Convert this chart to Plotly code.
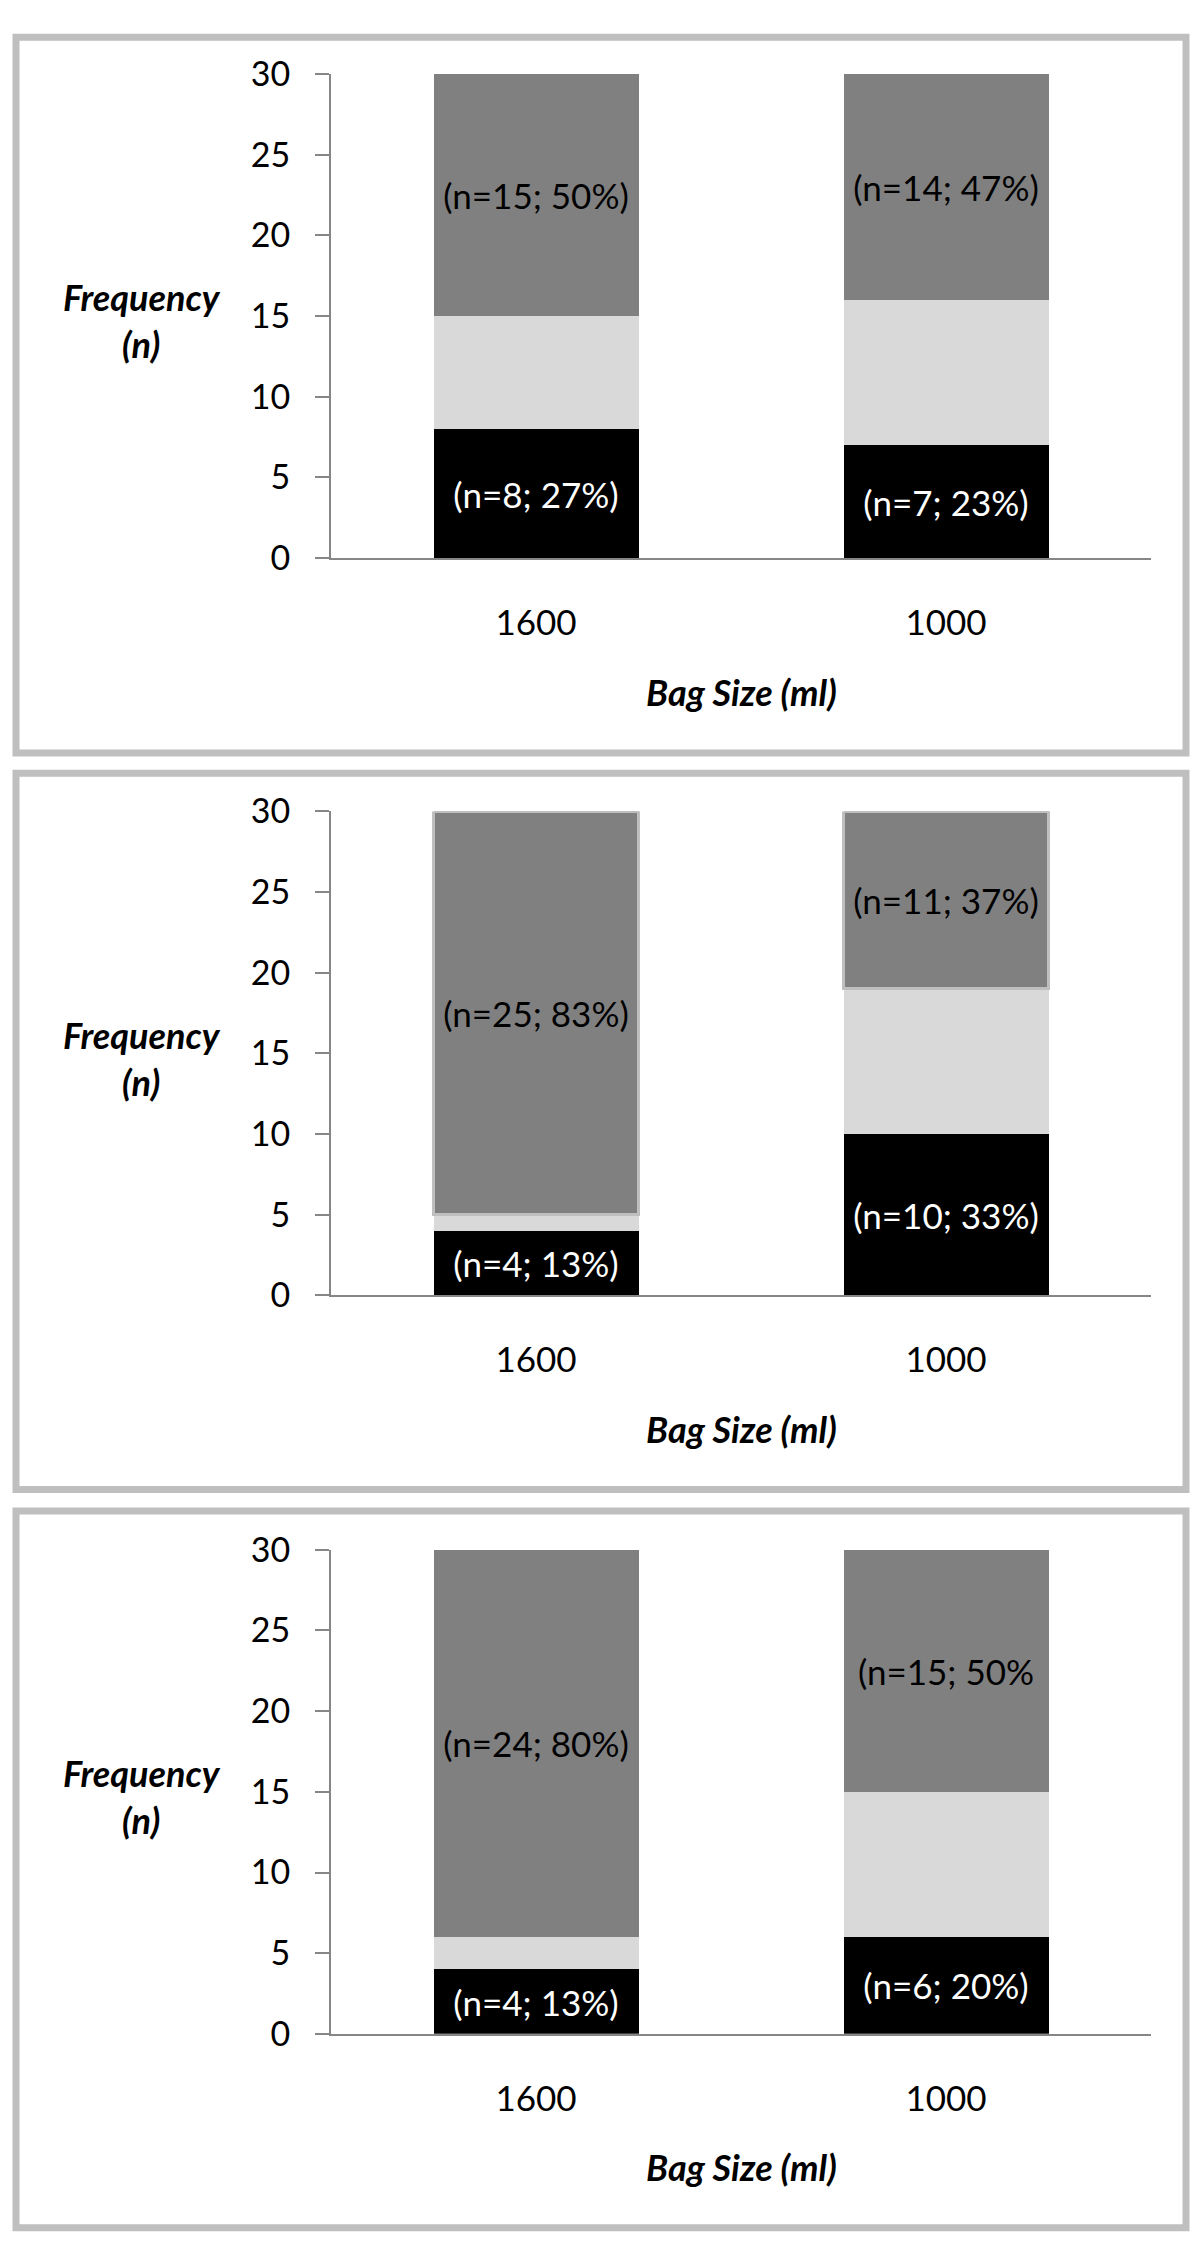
import plotly.graph_objs as go

#########################
## data (3 panels) ######
#########################
bag_sizes = ['1600', '1000']

p1_black = [8, 7]
p1_light = [7, 9]
p1_dark = [15, 14]
p1_black_text = ['(n=8; 27%)', '(n=7; 23%)']
p1_dark_text = ['(n=15; 50%)', '(n=14; 47%)']

p2_black = [4, 10]
p2_light = [1, 9]
p2_dark = [25, 11]
p2_black_text = ['(n=4; 13%)', '(n=10; 33%)']
p2_dark_text = ['(n=25; 83%)', '(n=11; 37%)']

p3_black = [4, 6]
p3_light = [2, 9]
p3_dark = [24, 15]
p3_black_text = ['(n=4; 13%)', '(n=6; 20%)']
p3_dark_text = ['(n=24; 80%)', '(n=15; 50%']

y_ticks = [0, 5, 10, 15, 20, 25, 30]

panels = [
    (p1_black, p1_light, p1_dark, p1_black_text, p1_dark_text, False),
    (p2_black, p2_light, p2_dark, p2_black_text, p2_dark_text, True),   ## middle panel has outlined top segment
    (p3_black, p3_light, p3_dark, p3_black_text, p3_dark_text, False),
]

#########################
## page geometry (px) ###
#########################
W, H = 1200, 2262
FONT = 'Lato'
AXIS_GREY = '#868686'
BORDER_GREY = '#BFBFBF'

plot_top = [53, 804, 1556]      # y pixel of value 30
plot_bottom = [546, 1297, 2049]  # y pixel of value 0
box_top = [15.5, 765, 1516.5]
box_bottom = [744.5, 1494.5, 2246.5]
x_left, x_right = 331, 1151


def px_x(v):
    return v / W


def px_y(v):
    return 1 - v / H


data = []
layout = go.Layout(
    width=W, height=H,
    margin=dict(l=0, r=0, t=0, b=0),
    paper_bgcolor='white',
    plot_bgcolor='white',
    barmode='stack',
    bargap=0.5,
    showlegend=False,
    hovermode=False,
    font=dict(family=FONT, color='black'),
)

shapes = []
annotations = []

for i, (blk, lgt, drk, blk_txt, drk_txt, outline) in enumerate(panels):
    n = '' if i == 0 else str(i + 1)
    xa, ya = 'x' + n, 'y' + n

    data.append(go.Bar(x=bag_sizes, y=blk, xaxis=xa, yaxis=ya,
                       marker=dict(color='#000000', line=dict(width=0)),
                       text=blk_txt, textposition='inside',
                       insidetextanchor='middle', constraintext='none',
                       textfont=dict(family=FONT, size=35, color='white')))
    data.append(go.Bar(x=bag_sizes, y=lgt, xaxis=xa, yaxis=ya,
                       marker=dict(color='#D9D9D9', line=dict(width=0))))
    data.append(go.Bar(x=bag_sizes, y=drk, xaxis=xa, yaxis=ya,
                       marker=dict(color='#808080',
                                   line=dict(color=BORDER_GREY, width=3 if outline else 0)),
                       text=drk_txt, textposition='inside',
                       insidetextanchor='middle', constraintext='none',
                       textfont=dict(family=FONT, size=35, color='black')))

    layout['xaxis' + n] = dict(
        domain=[px_x(x_left), px_x(x_right)],
        anchor=ya, type='category', range=[-0.5, 1.5],
        showline=True, linecolor=AXIS_GREY, linewidth=2,
        ticks='', showgrid=False, zeroline=False,
        tickfont=dict(family=FONT, size=35, color='black'),
        ticklabelstandoff=33,
    )
    layout['yaxis' + n] = dict(
        domain=[px_y(plot_bottom[i]), px_y(plot_top[i])],
        anchor=xa, range=[0, 30], tickvals=y_ticks,
        showline=True, linecolor=AXIS_GREY, linewidth=2,
        ticks='outside', ticklen=14, tickwidth=2, tickcolor=AXIS_GREY,
        showgrid=False, zeroline=False,
        tickfont=dict(family=FONT, size=34, color='black'),
        ticklabelstandoff=18,
    )

    ## grey frame round each chart
    shapes.append(dict(type='rect', xref='paper', yref='paper',
                       x0=px_x(16), x1=px_x(1186),
                       y0=px_y(box_bottom[i]), y1=px_y(box_top[i]),
                       line=dict(color=BORDER_GREY, width=7),
                       fillcolor='rgba(0,0,0,0)', layer='below'))

    mid = (plot_top[i] + plot_bottom[i]) / 2
    annotations.append(dict(xref='paper', yref='paper',
                            x=px_x(142), y=px_y(mid + 5),
                            xanchor='center', yanchor='middle',
                            text='<b><i>Frequency<br>(n)</i></b>',
                            showarrow=False, align='center',
                            font=dict(family=FONT, size=36, color='black')))
    annotations.append(dict(xref='paper', yref='paper',
                            x=px_x((x_left + x_right) / 2), y=px_y(plot_bottom[i] + 136),
                            xanchor='center', yanchor='middle',
                            text='<b><i>Bag Size (ml)</i></b>',
                            showarrow=False,
                            font=dict(family=FONT, size=36, color='black')))

layout['shapes'] = shapes
layout['annotations'] = annotations

fig = go.Figure(data=data, layout=layout)
## drop the browser's default body margin so the page lines up with the figure
fig.write_html('out.html', config={'displayModeBar': False},
               post_script="document.body.style.margin='0';")
